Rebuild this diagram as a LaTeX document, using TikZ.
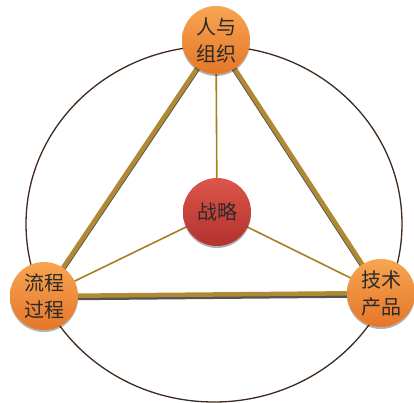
\documentclass[tikz,border=0pt]{standalone}
\usepackage{fontspec}
\usetikzlibrary{calc}
\newfontfamily\cjk{Noto Sans CJK SC}
\definecolor{gold}{HTML}{B08A32}
\definecolor{thingold}{HTML}{A87E22}
\definecolor{ring}{HTML}{3E2A1E}
\definecolor{shadowgray}{HTML}{555555}
\definecolor{txt}{HTML}{2A2A2A}
\definecolor{orangetop}{RGB}{247,165,82}
\definecolor{orangebot}{RGB}{230,118,40}
\definecolor{redtop}{RGB}{220,86,74}
\definecolor{redbot}{RGB}{178,50,46}
\tikzset{
  ball/.style={circle, minimum size=68pt, inner sep=0pt, align=center,
    font=\cjk\fontsize{20}{27}\selectfont, text=txt},
  orangeball/.style={ball, top color=orangetop, bottom color=orangebot},
  redball/.style={ball, top color=redtop, bottom color=redbot},
  thickline/.style={line width=4.5pt, gold},
  thickshadow/.style={line width=3pt, shadowgray},
  thinline/.style={line width=1.6pt, thingold},
  ballshadow/.style={circle, minimum size=68pt, inner sep=0pt, fill=black, opacity=0.3}
}
\begin{document}
\begin{tikzpicture}[x=1pt,y=-1pt]
\useasboundingbox (0,0) rectangle (414,402);
\draw[ring, line width=1.3pt] (214,224) ellipse [x radius=188, y radius=178];
\coordinate (pt) at (216,40);
\coordinate (pc) at (217,212);
\coordinate (pl) at (44,296);
\coordinate (pr) at (381,293);
% thin lines
\draw[thinline] (pc) -- (pt);
\draw[thinline] (pc) -- (pl);
\draw[thinline] (pc) -- (pr);
% thick lines
\draw[thickshadow] ($(pt)+(0,3)$) -- ($(pl)+(0,3)$) -- ($(pr)+(0,3)$) -- cycle;
\draw[thickline, line join=round] (pt) -- (pl) -- (pr) -- cycle;
% node shadows
\node[ballshadow] (st) at ($(pt)+(0,2)$) {};
\node[ballshadow] (sc) at ($(pc)+(0,2)$) {};
\node[ballshadow] (sl) at ($(pl)+(0,2)$) {};
\node[ballshadow] (sr) at ($(pr)+(0,2)$) {};
% nodes
\node[orangeball] (top) at (pt) {人与\\组织};
\node[redball] (center) at (pc) {战略};
\node[orangeball] (left) at (pl) {流程\\过程};
\node[orangeball] (right) at (pr) {技术\\产品};
\end{tikzpicture}
\end{document}
